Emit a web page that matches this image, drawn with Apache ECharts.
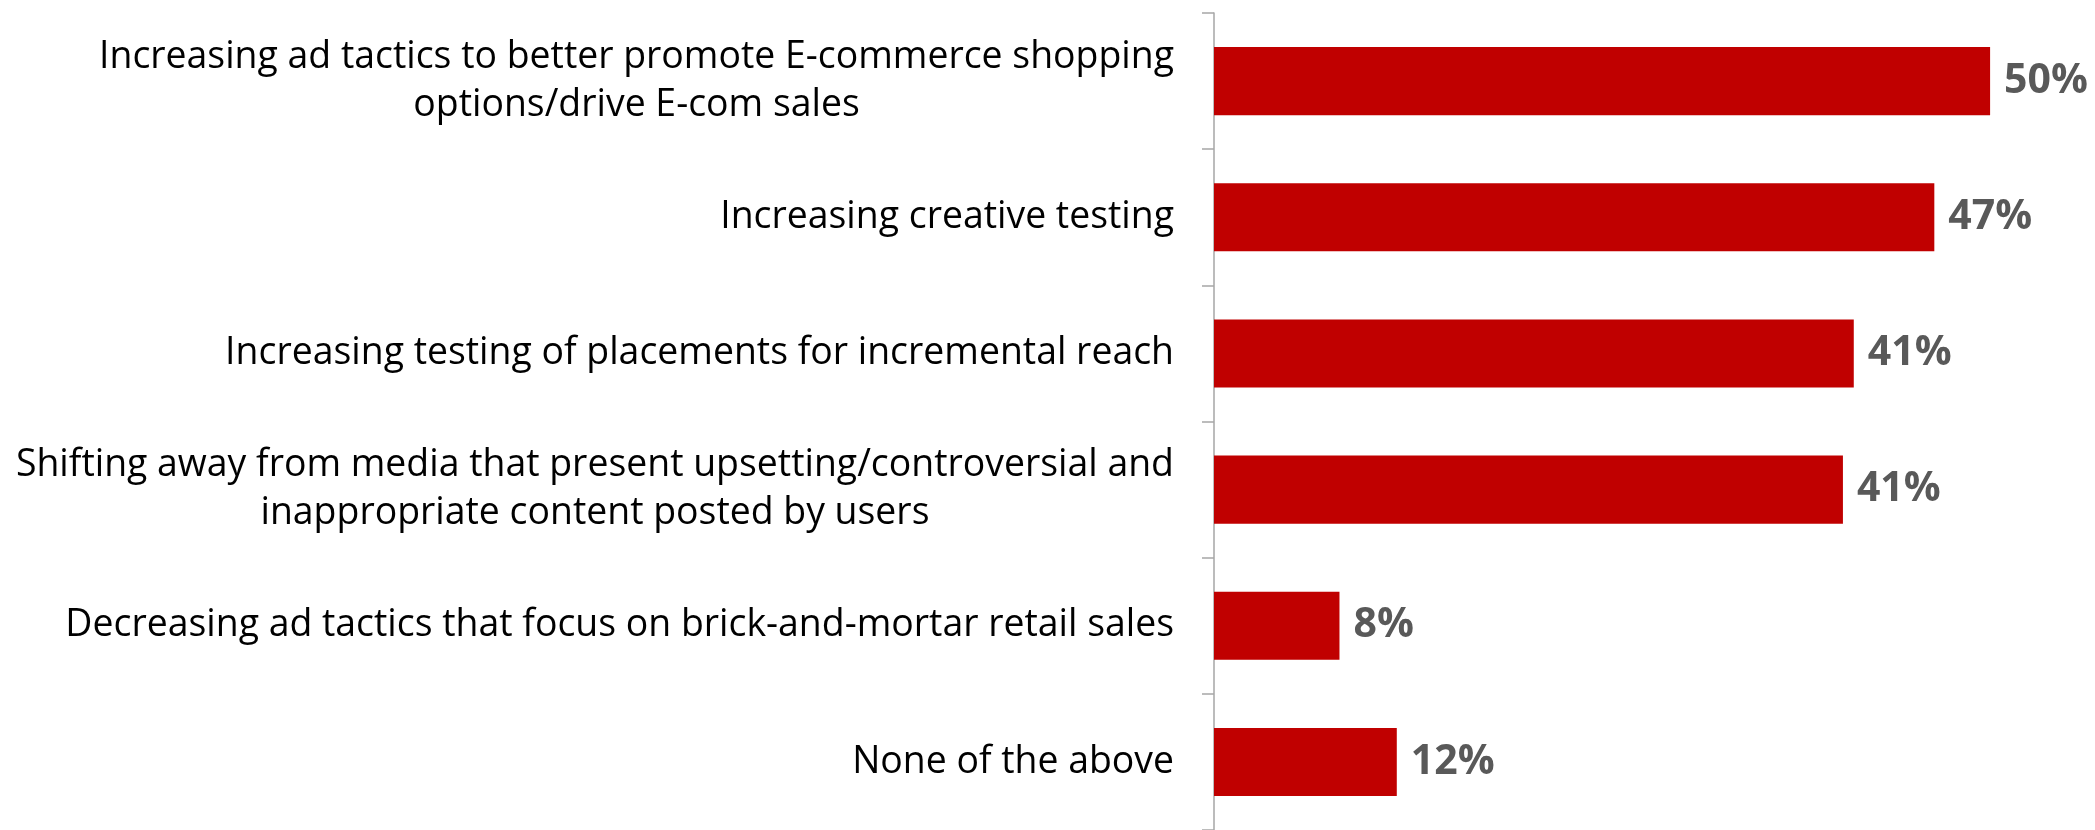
<!DOCTYPE html>
<html><head><meta charset="utf-8">
<script src="https://cdn.jsdelivr.net/npm/echarts@6/dist/echarts.min.js"></script>
<style>html,body{margin:0;padding:0;background:#fff}#c{width:2095px;height:830px}</style>
</head><body><div id="c"></div>
<script>
const categories = [
  'Increasing ad tactics to better promote E-commerce shopping\noptions/drive E-com sales',
  'Increasing creative testing',
  'Increasing testing of placements for incremental reach',
  'Shifting away from media that present upsetting/controversial and\ninappropriate content posted by users',
  'Decreasing ad tactics that focus on brick-and-mortar retail sales',
  'None of the above'
];
const values = [50.1, 46.5, 41.3, 40.6, 8.1, 11.8];

const FONT = '"Open Sans"';
const chart = echarts.init(document.getElementById('c'), null, {renderer: 'canvas'});
chart.setOption({
  animation: false,
  backgroundColor: '#ffffff',
  grid: {left: 1214, top: 13, bottom: 0, width: 852, containLabel: false},
  xAxis: {type: 'value', min: 0, max: 55, show: false},
  yAxis: {
    type: 'category',
    inverse: true,
    data: categories,
    axisLine: {show: true, lineStyle: {color: '#a6a6a6', width: 1.5}},
    axisTick: {show: true, length: 12, lineStyle: {color: '#a6a6a6', width: 1.5}},
    axisLabel: {
      margin: 40,
      align: 'right',
      formatter: function (v) {
        return v.split('\n').map(function (l) { return '{c|' + l + '}'; }).join('\n');
      },
      rich: {
        c: {align: 'center', fontFamily: FONT, fontSize: 37.4, color: '#000000', lineHeight: 48}
      }
    }
  },
  series: [{
    type: 'bar',
    data: values,
    barCategoryGap: '50%',
    itemStyle: {color: '#c00000'},
    label: {
      show: true,
      position: 'right',
      distance: 14,
      formatter: function (p) { return Math.round(p.value) + '%'; },
      fontFamily: FONT,
      fontWeight: 'bold',
      fontSize: 41,
      color: '#595959'
    }
  }]
});
</script>
</body></html>
